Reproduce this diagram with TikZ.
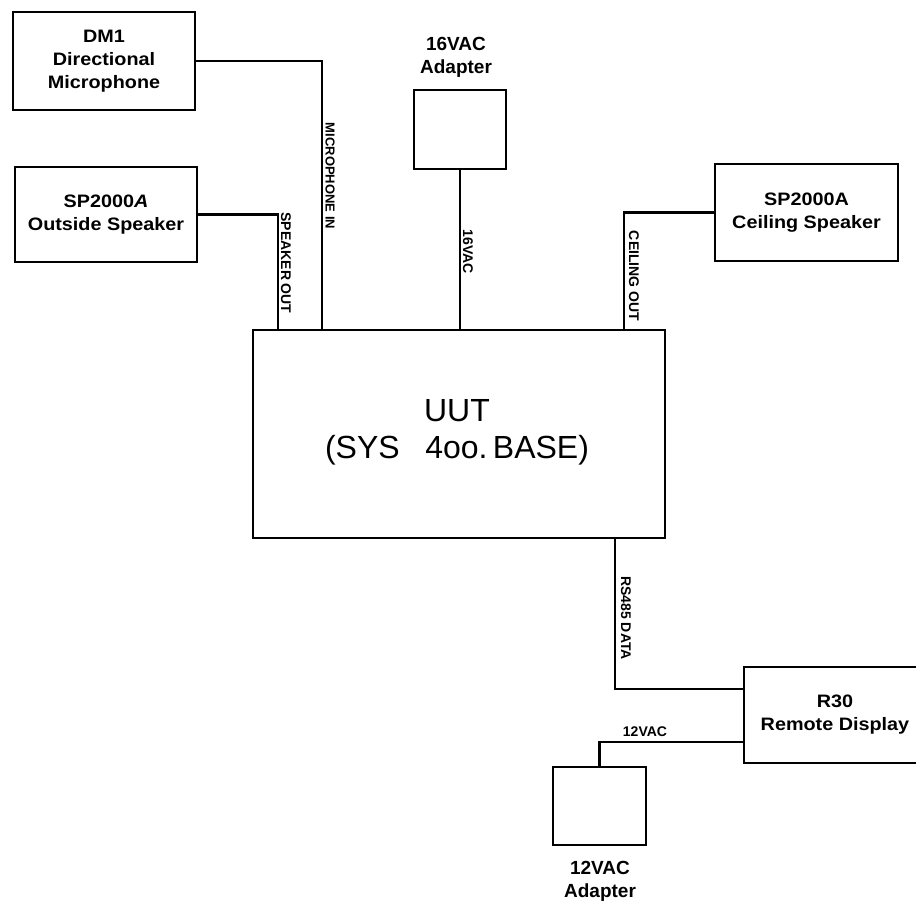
\documentclass[tikz,border=0pt]{standalone}
\usepackage{fontspec}
\setmainfont{Liberation Sans}
\newfontfamily\lblfont[FakeStretch=1.1]{Liberation Sans}
\begin{document}
\begin{tikzpicture}[x=1pt,y=-1pt,
  box/.style={draw, line width=1.8pt, inner sep=0pt},
  lab/.style={font=\lblfont\bfseries\fontsize{18}{23}\selectfont, align=center},
  adlab/.style={font=\bfseries\fontsize{19}{23}\selectfont, align=center},
  wire/.style={line width=2.7pt},
  vlab/.style={font=\bfseries\fontsize{14}{14}\selectfont, rotate=-90, inner sep=0pt},
  hlab/.style={font=\bfseries\fontsize{14}{14}\selectfont, inner sep=0pt}]
\useasboundingbox (0,0) rectangle (916,905);
% boxes
\node[box, lab, minimum width=182pt, minimum height=98pt] (dm) at (104,61) {DM1\\Directional\\Microphone};
\node[box, lab, minimum width=182pt, minimum height=95pt] (os) at (106,214.5) {SP2000\textit{A}\\Outside Speaker};
\node[box, minimum width=92pt, minimum height=79pt] (ad16) at (460,129.5) {};
\node[adlab] (ad16lab) at (456,57) {16VAC\\Adapter};
\node[box, lab, minimum width=183pt, minimum height=97pt] (cs) at (806.5,212.5) {SP2000A\\Ceiling Speaker};
\node[box, minimum width=412pt, minimum height=208pt] (uut) at (459,434) {};
\node[font=\fontsize{32}{37}\selectfont, align=center] (uuttext) at (457,432) {UUT\\(SYS\hspace{0.8em}4oo.\,BASE)};
\node[box, lab, minimum width=182pt, minimum height=96pt] (r30) at (835,715) {R30\\Remote Display};
\node[box, minimum width=93pt, minimum height=78pt] (ad12) at (599.5,806) {};
\node[adlab] (ad12lab) at (600,881) {12VAC\\Adapter};
% connector coordinates
\coordinate (micin) at (322,330);
\coordinate (spkout) at (278,330);
\coordinate (ceilout) at (624,330);
\coordinate (rstop) at (615,538);
% connectors
\draw[wire] (dm.east) -| (micin);
\draw[wire] (os.east) -| (spkout);
\draw[wire] (ad16.south) -- (ad16.south |- uut.north);
\draw[wire] (cs.west) -| (ceilout);
\draw[wire] (rstop) |- ([yshift=26pt]r30.west);
\draw[wire] ([yshift=-27pt]r30.west) -| (ad12.north);
% labels
\node[vlab, font=\bfseries\fontsize{13}{13}\selectfont] (lmic) at (330,176) {MICROPHONE IN};
\node[vlab] (lspk) at (286,263) {SPEAKER OUT};
\node[vlab] (l16) at (468,252) {16VAC};
\node[vlab] (lceil) at (634,276) {CEILING OUT};
\node[vlab] (lrs) at (626,618) {RS485 DATA};
\node[hlab] (l12) at (645,732) {12VAC};
\end{tikzpicture}
\end{document}
